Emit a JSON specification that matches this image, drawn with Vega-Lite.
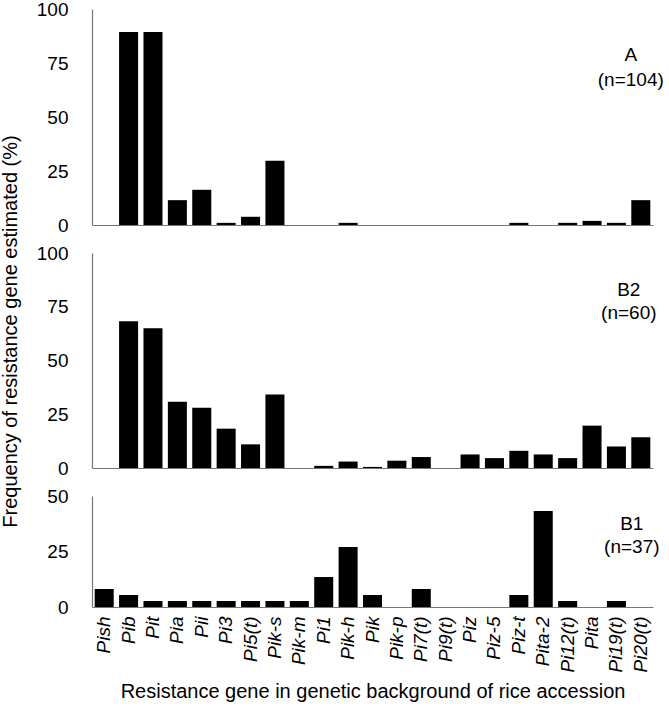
{
  "$schema": "https://vega.github.io/schema/vega-lite/v6.json",
  "padding": {"left": 0, "top": 0, "right": 0, "bottom": 0},
  "bounds": "flush",
  "spacing": 28,
  "config": {
    "font": "Liberation Sans",
    "view": {"stroke": null},
    "axis": {
      "grid": false,
      "ticks": false,
      "domainColor": "#767676",
      "domainWidth": 1.2,
      "labelColor": "#000000",
      "labelFontSize": 19,
      "titleColor": "#000000",
      "titleFontSize": 20,
      "titleFontWeight": "normal",
      "labelFont": "Liberation Sans",
      "titleFont": "Liberation Sans"
    }
  },
  "datasets": {
    "bars": [
      {"panel": "A", "gene": "Pib", "value": 89.4},
      {"panel": "A", "gene": "Pit", "value": 89.4},
      {"panel": "A", "gene": "Pia", "value": 11.5},
      {"panel": "A", "gene": "Pii", "value": 16.3},
      {"panel": "A", "gene": "Pi3", "value": 1.0},
      {"panel": "A", "gene": "Pi5(t)", "value": 3.8},
      {"panel": "A", "gene": "Pik-s", "value": 29.8},
      {"panel": "A", "gene": "Pik-h", "value": 1.0},
      {"panel": "A", "gene": "Piz-t", "value": 1.0},
      {"panel": "A", "gene": "Pi12(t)", "value": 1.0},
      {"panel": "A", "gene": "Pita", "value": 1.9},
      {"panel": "A", "gene": "Pi19(t)", "value": 1.0},
      {"panel": "A", "gene": "Pi20(t)", "value": 11.5},
      {"panel": "B2", "gene": "Pib", "value": 68.3},
      {"panel": "B2", "gene": "Pit", "value": 65.0},
      {"panel": "B2", "gene": "Pia", "value": 30.8},
      {"panel": "B2", "gene": "Pii", "value": 28.0},
      {"panel": "B2", "gene": "Pi3", "value": 18.3},
      {"panel": "B2", "gene": "Pi5(t)", "value": 11.0},
      {"panel": "B2", "gene": "Pik-s", "value": 34.2},
      {"panel": "B2", "gene": "Pi1", "value": 1.0},
      {"panel": "B2", "gene": "Pik-h", "value": 3.0},
      {"panel": "B2", "gene": "Pik", "value": 0.5},
      {"panel": "B2", "gene": "Pik-p", "value": 3.4},
      {"panel": "B2", "gene": "Pi7(t)", "value": 5.1},
      {"panel": "B2", "gene": "Piz", "value": 6.3},
      {"panel": "B2", "gene": "Piz-5", "value": 4.6},
      {"panel": "B2", "gene": "Piz-t", "value": 8.0},
      {"panel": "B2", "gene": "Pita-2", "value": 6.3},
      {"panel": "B2", "gene": "Pi12(t)", "value": 4.6},
      {"panel": "B2", "gene": "Pita", "value": 19.7},
      {"panel": "B2", "gene": "Pi19(t)", "value": 10.0},
      {"panel": "B2", "gene": "Pi20(t)", "value": 14.3},
      {"panel": "B1", "gene": "Pish", "value": 8.1},
      {"panel": "B1", "gene": "Pib", "value": 5.4},
      {"panel": "B1", "gene": "Pit", "value": 2.7},
      {"panel": "B1", "gene": "Pia", "value": 2.7},
      {"panel": "B1", "gene": "Pii", "value": 2.7},
      {"panel": "B1", "gene": "Pi3", "value": 2.7},
      {"panel": "B1", "gene": "Pi5(t)", "value": 2.7},
      {"panel": "B1", "gene": "Pik-s", "value": 2.7},
      {"panel": "B1", "gene": "Pik-m", "value": 2.7},
      {"panel": "B1", "gene": "Pi1", "value": 13.5},
      {"panel": "B1", "gene": "Pik-h", "value": 27.0},
      {"panel": "B1", "gene": "Pik", "value": 5.4},
      {"panel": "B1", "gene": "Pi7(t)", "value": 8.1},
      {"panel": "B1", "gene": "Piz-t", "value": 5.4},
      {"panel": "B1", "gene": "Pita-2", "value": 43.2},
      {"panel": "B1", "gene": "Pi12(t)", "value": 2.7},
      {"panel": "B1", "gene": "Pi19(t)", "value": 2.7}
    ],
    "notes": [
      {"panel": "A", "gene": "Pi20(t)", "value": 78.5, "label": "A\n(n=104)"},
      {"panel": "B2", "gene": "Pi20(t)", "value": 82.6, "label": "B2\n(n=60)"},
      {"panel": "B1", "gene": "Pi20(t)", "value": 37.2, "label": "B1\n(n=37)"}
    ]
  },
  "vconcat": [
    {
      "width": 561,
      "height": 216,
      "layer": [
        {
          "data": {"name": "bars"},
          "transform": [{"filter": "datum.panel === 'A'"}],
          "mark": {"type": "bar", "color": "#000000"},
          "encoding": {
            "x": {"field": "gene", "type": "nominal",
                  "scale": {"domain": ["Pish","Pib","Pit","Pia","Pii","Pi3","Pi5(t)","Pik-s","Pik-m","Pi1","Pik-h","Pik","Pik-p","Pi7(t)","Pi9(t)","Piz","Piz-5","Piz-t","Pita-2","Pi12(t)","Pita","Pi19(t)","Pi20(t)"], "paddingInner": 0.22, "paddingOuter": 0.11},
                  "axis": {"labels": false, "title": null}},
            "y": {"field": "value", "type": "quantitative",
                  "scale": {"domain": [0, 100], "nice": false},
                  "axis": {"values": [0, 25, 50, 75, 100], "title": null, "labelPadding": 24}}
          }
        },
        {
          "data": {"name": "notes"},
          "transform": [{"filter": "datum.panel === 'A'"}],
          "mark": {"type": "text", "fontSize": 19, "align": "center", "baseline": "middle", "lineBreak": "\n", "lineHeight": 25, "dx": -10, "color": "#000000"},
          "encoding": {
            "x": {"field": "gene", "type": "nominal"},
            "y": {"field": "value", "type": "quantitative"},
            "text": {"field": "label"}
          }
        }
      ]
    },
    {
      "width": 561,
      "height": 215,
      "layer": [
        {
          "data": {"name": "bars"},
          "transform": [{"filter": "datum.panel === 'B2'"}],
          "mark": {"type": "bar", "color": "#000000"},
          "encoding": {
            "x": {"field": "gene", "type": "nominal",
                  "scale": {"domain": ["Pish","Pib","Pit","Pia","Pii","Pi3","Pi5(t)","Pik-s","Pik-m","Pi1","Pik-h","Pik","Pik-p","Pi7(t)","Pi9(t)","Piz","Piz-5","Piz-t","Pita-2","Pi12(t)","Pita","Pi19(t)","Pi20(t)"], "paddingInner": 0.22, "paddingOuter": 0.11},
                  "axis": {"labels": false, "title": null}},
            "y": {"field": "value", "type": "quantitative",
                  "scale": {"domain": [0, 100], "nice": false},
                  "axis": {"values": [0, 25, 50, 75, 100], "labelPadding": 24,
                           "title": "Frequency of resistance gene estimated (%)",
                           "titleY": 78, "titlePadding": 16}}
          }
        },
        {
          "data": {"name": "notes"},
          "transform": [{"filter": "datum.panel === 'B2'"}],
          "mark": {"type": "text", "fontSize": 19, "align": "center", "baseline": "middle", "lineBreak": "\n", "lineHeight": 23, "dx": -12, "color": "#000000"},
          "encoding": {
            "x": {"field": "gene", "type": "nominal"},
            "y": {"field": "value", "type": "quantitative"},
            "text": {"field": "label"}
          }
        }
      ]
    },
    {
      "width": 561,
      "height": 111,
      "layer": [
        {
          "data": {"name": "bars"},
          "transform": [{"filter": "datum.panel === 'B1'"}],
          "mark": {"type": "bar", "color": "#000000"},
          "encoding": {
            "x": {"field": "gene", "type": "nominal",
                  "scale": {"domain": ["Pish","Pib","Pit","Pia","Pii","Pi3","Pi5(t)","Pik-s","Pik-m","Pi1","Pik-h","Pik","Pik-p","Pi7(t)","Pi9(t)","Piz","Piz-5","Piz-t","Pita-2","Pi12(t)","Pita","Pi19(t)","Pi20(t)"], "paddingInner": 0.22, "paddingOuter": 0.11},
                  "axis": {"labelAngle": -90, "labelFontStyle": "italic", "labelPadding": 9,
                           "title": "Resistance gene in genetic background of rice accession",
                           "titlePadding": 10}},
            "y": {"field": "value", "type": "quantitative",
                  "scale": {"domain": [0, 50], "nice": false},
                  "axis": {"values": [0, 25, 50], "title": null, "labelPadding": 24}}
          }
        },
        {
          "data": {"name": "notes"},
          "transform": [{"filter": "datum.panel === 'B1'"}],
          "mark": {"type": "text", "fontSize": 19, "align": "center", "baseline": "middle", "lineBreak": "\n", "lineHeight": 23, "dx": -9, "color": "#000000"},
          "encoding": {
            "x": {"field": "gene", "type": "nominal"},
            "y": {"field": "value", "type": "quantitative"},
            "text": {"field": "label"}
          }
        }
      ]
    }
  ]
}
